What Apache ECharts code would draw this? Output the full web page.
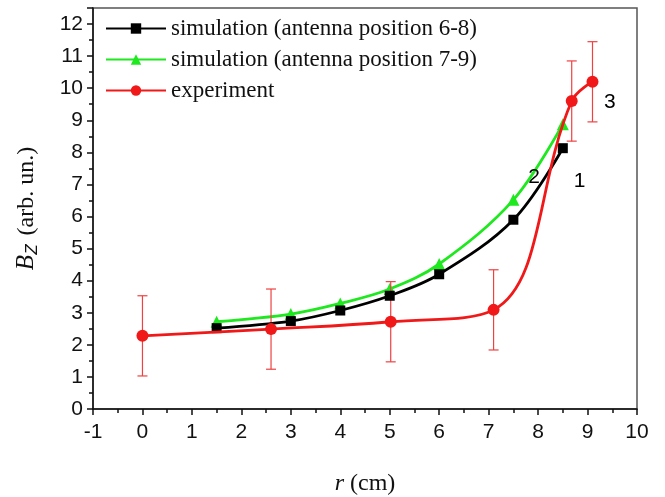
<!DOCTYPE html>
<html><head><meta charset="utf-8">
<script src="https://cdn.jsdelivr.net/npm/echarts@6/dist/echarts.min.js"></script>
<style>html,body{margin:0;padding:0;background:#fff}#c{width:665px;height:497px}</style>
</head><body><div id="c"></div>
<script>
var simX = [1.5, 3, 4, 5, 6, 7.5, 8.5];
var sim68 = [2.52, 2.74, 3.07, 3.53, 4.2, 5.9, 8.13];
var sim79 = [2.72, 2.96, 3.29, 3.74, 4.52, 6.52, 8.88];
var expX = [0, 2.6, 5.02, 7.1, 8.68, 9.1];
var expY = [2.28, 2.49, 2.72, 3.09, 9.6, 10.2];
var expErr = [1.25, 1.25, 1.25, 1.25, 1.25, 1.25];
var annX = [8.84, 7.92, 9.45];
var annY = [7.1, 7.23, 9.55];
var annText = ['1', '2', '3'];
var names = ['simulation (antenna position 6-8)', 'simulation (antenna position 7-9)', 'experiment'];

function pairs(xs, ys){ return xs.map(function(x,i){return [x, ys[i]];}); }

var chart = echarts.init(document.getElementById('c'), null, {renderer:'canvas'});
var serif = '"Liberation Serif","Times New Roman",serif';
var sans = '"Liberation Sans",Arial,sans-serif';
chart.setOption({
  animation:false,
  grid:{left:93, right:28, top:8, bottom:88, outerBoundsMode:'none', containLabel:false,
    show:true, borderColor:'#555', borderWidth:1.5, backgroundColor:'transparent'},
  legend:{
    data:names, orient:'vertical', left:100, top:12, itemWidth:60, itemHeight:13, itemGap:8,
    textStyle:{fontFamily:serif, fontSize:23, color:'#111'}
  },
  xAxis:{
    type:'value', min:-1, max:10, interval:1,
    axisLine:{onZero:false, lineStyle:{color:'#111', width:1.5}},
    axisTick:{inside:false, length:6, lineStyle:{color:'#111', width:1.5}},
    minorTick:{show:true, splitNumber:2, length:4, lineStyle:{color:'#111', width:1.5}},
    splitLine:{show:false},
    axisLabel:{fontFamily:sans, fontSize:21, color:'#111', margin:13},
    name:'{i|r} (cm)', nameLocation:'middle', nameGap:63,
    nameTextStyle:{fontFamily:serif, fontSize:24, color:'#111', rich:{i:{fontFamily:serif, fontStyle:'italic', fontSize:24}}}
  },
  yAxis:{
    type:'value', min:0, max:12.5, interval:1,
    axisLine:{onZero:false, lineStyle:{color:'#111', width:1.5}},
    axisTick:{inside:false, length:6, lineStyle:{color:'#111', width:1.5}},
    minorTick:{show:true, splitNumber:2, length:4, lineStyle:{color:'#111', width:1.5}},
    splitLine:{show:false},
    axisLabel:{fontFamily:sans, fontSize:21, color:'#111', margin:10,
      formatter:function(v){return v%1===0? String(v):'';}},
    name:'{b|B}{s|Z} (arb. un.)', nameLocation:'middle', nameGap:52,
    nameTextStyle:{fontFamily:serif, fontSize:24, color:'#111',
      rich:{b:{fontFamily:serif, fontStyle:'italic', fontSize:25}, s:{fontFamily:sans, fontStyle:'italic', fontSize:17, verticalAlign:'bottom', padding:[12,3,0,0]}}}
  },
  series:[
    {name:names[0], type:'line', data:pairs(simX, sim68), smooth:0.35, symbol:'rect', symbolSize:10,
      lineStyle:{color:'#000', width:2.8}, itemStyle:{color:'#000'}, z:3},
    {name:names[1], type:'line', data:pairs(simX, sim79), smooth:0.35, symbol:'triangle', symbolSize:12,
      lineStyle:{color:'#1ee81e', width:2.8}, itemStyle:{color:'#1ee81e'}, z:2},
    {name:names[2], type:'line', data:pairs(expX, expY), smooth:0.4, symbol:'circle', symbolSize:12,
      lineStyle:{color:'#f01818', width:2.8}, itemStyle:{color:'#f01818'}, z:4},
    {type:'custom', name:'err', data:expX.map(function(x,i){return [x, expY[i]-expErr[i], expY[i]+expErr[i]];}),
      renderItem:function(params, api){
        var lo = api.coord([api.value(0), api.value(1)]);
        var hi = api.coord([api.value(0), api.value(2)]);
        var w = 5;
        var st = {stroke:'#f04040', lineWidth:1.2};
        return {type:'group', children:[
          {type:'line', shape:{x1:lo[0], y1:lo[1], x2:hi[0], y2:hi[1]}, style:st},
          {type:'line', shape:{x1:lo[0]-w, y1:lo[1], x2:lo[0]+w, y2:lo[1]}, style:st},
          {type:'line', shape:{x1:hi[0]-w, y1:hi[1], x2:hi[0]+w, y2:hi[1]}, style:st}
        ]};
      }, z:3, silent:true},
    {type:'scatter', name:'ann', data:annX.map(function(x,i){return [x, annY[i], annText[i]];}), symbolSize:0,
      itemStyle:{opacity:1},
      label:{show:true, position:'inside', formatter:function(p){return p.data[2];}, fontFamily:sans, fontSize:21, color:'#000', opacity:1}, z:5, silent:true}
  ]
});
</script></body></html>
